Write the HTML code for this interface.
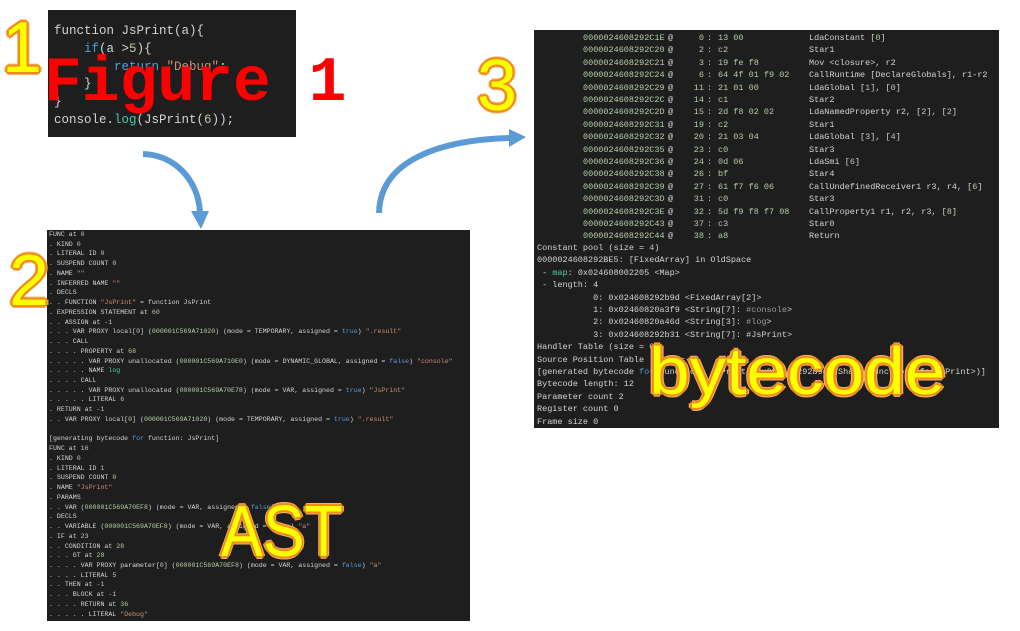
<!DOCTYPE html>
<html><head><meta charset="utf-8">
<style>
*{margin:0;padding:0;box-sizing:border-box}
body{width:1020px;height:631px;background:#fff;position:relative;overflow:hidden;font-family:"Liberation Sans",sans-serif}
.p{position:absolute;background:#1e1e1e;overflow:hidden}
.code{font-family:"Liberation Mono",monospace;color:#d4d4d4;white-space:pre;position:absolute}
.n{color:#b5cea8}.s{color:#ce9178}.k{color:#569cd6}.t{color:#4ec9b0}.g{color:#9a9a9a}
.big{position:absolute;color:#ffff00;font-family:"Liberation Sans",sans-serif;line-height:1;white-space:pre;transform-origin:0 0;
text-shadow:2px 0 #f08a1c,-2px 0 #f08a1c,0 2px #f08a1c,0 -2px #f08a1c,1.5px 1.5px #f08a1c,-1.5px 1.5px #f08a1c,1.5px -1.5px #f08a1c,-1.5px -1.5px #f08a1c,3px 0 #f5b070,-3px 0 #f5b070,0 3px #f5b070,0 -3px #f5b070}
.row{position:absolute;left:0;width:470px;height:12px;font-family:"Liberation Mono",monospace;font-size:8.5px;color:#d4d4d4;white-space:pre}
.row span{position:absolute;top:0}
</style></head><body>

<div class="p" style="left:48px;top:10px;width:248px;height:127px">
<div class="code" style="left:6px;top:13px;font-size:12.5px;line-height:17.8px">function JsPrint(a){
    <span class="k">if</span>(a &gt;<span class="n">5</span>){
        <span class="k">return</span> <span class="s">"Debug"</span>;
    }
}
console.<span class="t">log</span>(JsPrint(<span class="n">6</span>));</div>
</div>

<div class="p" style="left:47px;top:230px;width:423px;height:391px">
<div class="code" style="left:2px;top:0px;font-size:6.6px;line-height:9.74px">FUNC at <span class="n">0</span>
. KIND <span class="n">0</span>
. LITERAL ID <span class="n">0</span>
. SUSPEND COUNT <span class="n">0</span>
. NAME <span class="s">""</span>
. INFERRED NAME <span class="s">""</span>
. DECLS
. . FUNCTION <span class="s">"JsPrint"</span> = function JsPrint
. EXPRESSION STATEMENT at <span class="n">60</span>
. . ASSIGN at <span class="n">-1</span>
. . . VAR PROXY local[<span class="n">0</span>] (<span class="n">000001C569A71020</span>) (mode = TEMPORARY, assigned = <span class="k">true</span>) <span class="s">".result"</span>
. . . CALL
. . . . PROPERTY at <span class="n">68</span>
. . . . . VAR PROXY unallocated (<span class="n">000001C569A710E0</span>) (mode = DYNAMIC_GLOBAL, assigned = <span class="k">false</span>) <span class="s">"console"</span>
. . . . . NAME <span class="t">log</span>
. . . . CALL
. . . . . VAR PROXY unallocated (<span class="n">000001C569A70E78</span>) (mode = VAR, assigned = <span class="k">true</span>) <span class="s">"JsPrint"</span>
. . . . . LITERAL <span class="n">6</span>
. RETURN at <span class="n">-1</span>
. . VAR PROXY local[<span class="n">0</span>] (<span class="n">000001C569A71020</span>) (mode = TEMPORARY, assigned = <span class="k">true</span>) <span class="s">".result"</span>

[generating bytecode <span class="k">for</span> function: JsPrint]
FUNC at <span class="n">16</span>
. KIND <span class="n">0</span>
. LITERAL ID <span class="n">1</span>
. SUSPEND COUNT <span class="n">0</span>
. NAME <span class="s">"JsPrint"</span>
. PARAMS
. . VAR (<span class="n">000001C569A70EF8</span>) (mode = VAR, assigned = <span class="k">false</span>) <span class="s">"a"</span>
. DECLS
. . VARIABLE (<span class="n">000001C569A70EF8</span>) (mode = VAR, assigned = <span class="k">false</span>) <span class="s">"a"</span>
. IF at <span class="n">23</span>
. . CONDITION at <span class="n">28</span>
. . . GT at <span class="n">28</span>
. . . . VAR PROXY parameter[<span class="n">0</span>] (<span class="n">000001C569A70EF8</span>) (mode = VAR, assigned = <span class="k">false</span>) <span class="s">"a"</span>
. . . . LITERAL <span class="n">5</span>
. . THEN at <span class="n">-1</span>
. . . BLOCK at <span class="n">-1</span>
. . . . RETURN at <span class="n">36</span>
. . . . . LITERAL <span class="s">"Debug"</span></div>
</div>

<div class="p" style="left:534px;top:30px;width:465px;height:398px">
<div id="bc"></div>
<div class="code" style="left:3px;top:212px;font-size:8.5px;line-height:12.4px">Constant pool (size = <span class="n">4</span>)
0000024608292BE5: [FixedArray] in OldSpace
 - <span class="t">map</span>: 0x024608002205 &lt;Map&gt;
 - length: 4
           0: 0x024608292b9d &lt;FixedArray[2]&gt;
           1: 0x02460820a3f9 &lt;String[7]: <span class="g">#console</span>&gt;
           2: 0x02460820a46d &lt;String[3]: <span class="g">#log</span>&gt;
           3: 0x024608292b31 &lt;String[7]: #JsPrint&gt;
Handler Table (size = <span class="n">0</span>)
Source Position Table (size = <span class="n">0</span>)
[generated bytecode <span class="k">for</span> function: JsPrint (0x024608292b9d &lt;SharedFunctionInfo JsPrint&gt;)]
Bytecode length: 12
Parameter count 2
Register count 0
Frame size 0</div>
</div>

<svg style="position:absolute;left:0;top:0" width="1020" height="631">
<path d="M143,154 C175,155 198,180 200,212" fill="none" stroke="#5b9bd5" stroke-width="6"/>
<polygon points="191,211 209,211 201,229" fill="#5b9bd5"/>
<path d="M379,213 C380,160 440,140 510,138" fill="none" stroke="#5b9bd5" stroke-width="6"/>
<polygon points="509,129 509,147 526,137" fill="#5b9bd5"/>
</svg>

<div class="big" style="left:2px;top:12px;font-size:72px">1</div>
<div class="big" style="left:9px;top:245px;font-size:72px">2</div>
<div class="big" style="left:477px;top:50px;font-size:72px">3</div>
<div style="position:absolute;left:44px;top:52px;font-family:'Liberation Mono',monospace;font-weight:bold;font-size:63px;color:#ff0000;line-height:1;white-space:pre">Figure 1</div>
<div class="big" style="left:221px;top:496px;font-size:72px;transform:scaleX(0.87)">AST</div>
<div class="big" style="left:649px;top:338px;font-size:67px;transform:scaleX(1.09)">bytecode</div>

<script>
var r=[["0000024608292C1E","0","13 00","LdaConstant [<n>0</n>]"],["0000024608292C20","2","c2","Star1"],["0000024608292C21","3","19 fe f8","Mov &lt;closure&gt;, r2"],["0000024608292C24","6","64 4f 01 f9 02","CallRuntime [DeclareGlobals], r1-r2"],["0000024608292C29","11","21 01 00","LdaGlobal [<n>1</n>], [<n>0</n>]"],["0000024608292C2C","14","c1","Star2"],["0000024608292C2D","15","2d f8 02 02","LdaNamedProperty r2, [<n>2</n>], [<n>2</n>]"],["0000024608292C31","19","c2","Star1"],["0000024608292C32","20","21 03 04","LdaGlobal [<n>3</n>], [<n>4</n>]"],["0000024608292C35","23","c0","Star3"],["0000024608292C36","24","0d 06","LdaSmi [<n>6</n>]"],["0000024608292C38","26","bf","Star4"],["0000024608292C39","27","61 f7 f6 06","CallUndefinedReceiver1 r3, r4, [<n>6</n>]"],["0000024608292C3D","31","c0","Star3"],["0000024608292C3E","32","5d f9 f8 f7 08","CallProperty1 r1, r2, r3, [<n>8</n>]"],["0000024608292C43","37","c3","Star0"],["0000024608292C44","38","a8","Return"]];
var h="";
r.forEach(function(x,i){
h+='<div class="row" style="top:'+(3+i*12.4)+'px"><span class="n" style="left:49px">'+x[0]+'</span><span style="left:134px">@</span><span class="n" style="left:150px;width:20px;text-align:right">'+x[1]+'</span><span class="n" style="left:173px">:</span><span class="n" style="left:184px">'+x[2]+'</span><span style="left:275px">'+x[3].replace(/<n>/g,'<b class="n" style="font-weight:normal">').replace(/<\/n>/g,'</b>')+'</span></div>';
});
document.getElementById('bc').innerHTML=h;
</script>
</body></html>
